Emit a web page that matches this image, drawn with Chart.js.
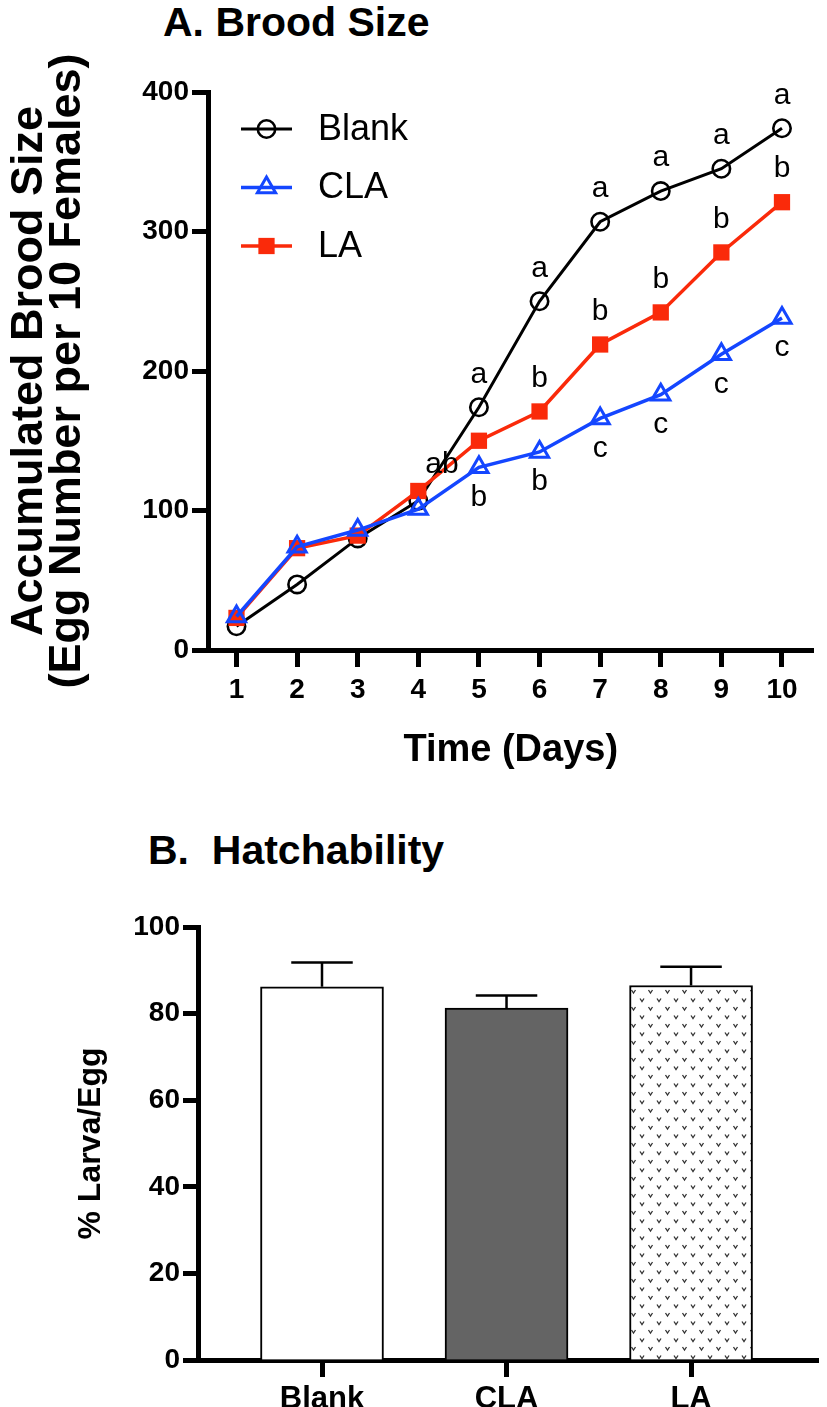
<!DOCTYPE html>
<html><head><meta charset="utf-8">
<script src="https://cdn.jsdelivr.net/npm/chart.js@4.4.1/dist/chart.umd.min.js"></script>
<style>
html,body{margin:0;padding:0;background:#fff;}
#wrap{position:relative;width:827px;height:1407px;overflow:hidden;background:#fff;}
.ptitle{position:absolute;font-family:'Liberation Sans',Arial,sans-serif;font-weight:bold;font-size:41px;line-height:1;white-space:pre;color:#000;}
canvas{position:absolute;left:0;}
</style></head><body>
<div id="wrap">
<div class="ptitle" style="left:163px;top:2px">A. Brood Size</div>
<div class="ptitle" style="left:148px;top:830px">B.  Hatchability</div>
<canvas id="c1" width="827" height="777" style="top:0"></canvas>
<canvas id="c2" width="827" height="607" style="top:800px"></canvas>
</div>
<script>
// ---------- data ----------
const days = [1, 2, 3, 4, 5, 6, 7, 8, 9, 10];
const seriesNames = ['Blank', 'CLA', 'LA'];
const blankBrood = [17, 47, 80, 107, 174, 250, 307, 329, 345, 374];
const claBrood   = [24, 74, 86, 101, 131, 142, 166, 183, 212, 238];
const laBrood    = [23, 73, 82, 114, 150, 171, 219, 242, 285, 321];
const blankLetters = ['', '', '', '', 'a', 'a', 'a', 'a', 'a', 'a'];
const claLetters   = ['', '', '', '', 'b', 'b', 'c', 'c', 'c', 'c'];
const laLetters    = ['', '', '', '', 'ab', 'b', 'b', 'b', 'b', 'b'];
const broodTicks = [0, 100, 200, 300, 400];

const hatchGroups = ['Blank', 'CLA', 'LA'];
const hatchMean = [86.2, 81.3, 86.5];
const hatchSD   = [5.6, 2.9, 4.3];
const hatchTicks = [0, 20, 40, 60, 80, 100];

// ---------- styles ----------
const F = "'Liberation Sans', Arial, sans-serif";
Chart.defaults.font.family = F;
Chart.defaults.color = '#000';
const BLUE = '#1446ff';
const RED = '#fa2a0a';

function toXY(xs, ys) { return xs.map((x, i) => ({ x: x, y: ys[i] })); }

function axisStyle(tickLen) {
  return {
    border: { display: true, color: '#000', width: 5 },
    grid: { display: true, offset: false, drawOnChartArea: false, drawTicks: true, tickLength: tickLen, tickWidth: 5, tickColor: '#000', color: '#000' }
  };
}
const tickFont = { family: F, size: 28, weight: 'bold' };

function drawMarker(ctx, style, x, y) {
  ctx.save();
  ctx.lineWidth = style.borderWidth;
  ctx.strokeStyle = style.borderColor;
  ctx.fillStyle = style.backgroundColor;
  if (Chart.helpers && Chart.helpers.drawPoint) {
    Chart.helpers.drawPoint(ctx, { pointStyle: style.pointStyle, radius: style.radius, borderWidth: style.borderWidth, rotation: 0 }, x, y);
  }
  ctx.restore();
}

const letterPlugin = {
  id: 'letters',
  afterDatasetsDraw(chart) {
    const ctx = chart.ctx;
    ctx.save();
    ctx.font = '30px ' + F;
    ctx.fillStyle = '#000';
    ctx.textAlign = 'center';
    ctx.textBaseline = 'middle';
    chart.data.datasets.forEach((ds, di) => {
      const meta = chart.getDatasetMeta(di);
      ds.letters.forEach((t, i) => {
        if (!t) return;
        const p = meta.data[i];
        let dx = 0, dy = ds.letterSide === 'below' ? 30 : -33;
        if (t.length > 1) { dx = -37; dy = 24; }
        ctx.fillText(t, p.x + dx, p.y + dy);
      });
    });
    ctx.restore();
  }
};

const legendPlugin = {
  id: 'innerLegend',
  afterDraw(chart) {
    const ctx = chart.ctx;
    const x0 = chart.chartArea.left + 33, x1 = x0 + 51, xm = (x0 + x1) / 2;
    const y0 = chart.chartArea.top + 37, dyRow = 58.5;
    chart.data.datasets.slice().sort((a, b) => a.legendIndex - b.legendIndex).forEach((ds, k) => {
      const y = y0 + k * dyRow;
      ctx.save();
      ctx.strokeStyle = ds.borderColor;
      ctx.lineWidth = ds.borderWidth;
      ctx.beginPath(); ctx.moveTo(x0, y); ctx.lineTo(x1, y); ctx.stroke();
      ctx.restore();
      drawMarker(ctx, { pointStyle: ds.pointStyle, radius: ds.pointRadius, borderWidth: ds.pointBorderWidth, borderColor: ds.pointBorderColor, backgroundColor: ds.pointBackgroundColor }, xm, y);
      ctx.save();
      ctx.font = '36px ' + F;
      ctx.fillStyle = '#000';
      ctx.textBaseline = 'middle';
      ctx.fillText(ds.label, x1 + 26, y + 1);
      ctx.restore();
    });
  }
};

new Chart(document.getElementById('c1'), {
  type: 'line',
  data: {
    datasets: [
      { label: seriesNames[0], legendIndex: 0, order: 3, data: toXY(days, blankBrood), letters: blankLetters, letterSide: 'above',
        borderColor: '#000', borderWidth: 3, pointStyle: 'circle', pointRadius: 8.7, pointBorderWidth: 2.6,
        pointBorderColor: '#000', pointBackgroundColor: 'rgba(0,0,0,0)', tension: 0 },
      { label: seriesNames[1], legendIndex: 1, order: 1, data: toXY(days, claBrood), letters: claLetters, letterSide: 'below',
        borderColor: BLUE, borderWidth: 3.5, pointStyle: 'triangle', pointRadius: 10.5, pointBorderWidth: 3,
        pointBorderColor: BLUE, pointBackgroundColor: 'rgba(0,0,0,0)', tension: 0 },
      { label: seriesNames[2], legendIndex: 2, order: 2, data: toXY(days, laBrood), letters: laLetters, letterSide: 'above',
        borderColor: RED, borderWidth: 3.5, pointStyle: 'rect', pointRadius: 11.5, pointBorderWidth: 0,
        pointBorderColor: RED, pointBackgroundColor: RED, tension: 0 }
    ]
  },
  options: {
    responsive: false, animation: false, events: [],
    clip: false,
    layout: { padding: { top: 92, right: 0, bottom: 0, left: 0 } },
    plugins: { legend: { display: false }, tooltip: { enabled: false } },
    scales: {
      x: Object.assign({
        type: 'linear', min: 0.53, max: 10.52,
        afterBuildTicks: s => { s.ticks = days.map(v => ({ value: v })); },
        afterFit: s => { s.height = 127; },
        ticks: { color: '#000', font: tickFont, padding: 6, maxRotation: 0, autoSkip: false },
        title: { display: true, text: 'Time (Days)', color: '#000', font: { size: 38, weight: 'bold' }, padding: { top: 0, bottom: 4 } }
      }, axisStyle(17)),
      y: Object.assign({
        type: 'linear', min: 0, max: 400,
        afterBuildTicks: s => { s.ticks = broodTicks.map(v => ({ value: v })); },
        afterFit: s => { s.width = 208; },
        ticks: { color: '#000', font: tickFont, padding: 3 },
        title: { display: true, text: ['Accumulated Brood Size', '(Egg Number per 10 Females)'], color: '#000',
                 font: { size: 45, weight: 'bold', lineHeight: 0.85 }, padding: { top: 10, bottom: 0 } }
      }, axisStyle(16))
    }
  },
  plugins: [letterPlugin, legendPlugin]
});

function makeDotPattern(ctx) {
  const c = document.createElement('canvas');
  c.width = 17; c.height = 17;
  const g = c.getContext('2d');
  g.fillStyle = '#fff'; g.fillRect(0, 0, 17, 17);
  g.strokeStyle = '#333'; g.lineWidth = 1.3;
  [[4.5, 4.5], [13, 13]].forEach(([x, y]) => {
    g.beginPath(); g.moveTo(x - 2, y - 1.5); g.lineTo(x, y + 1.5); g.lineTo(x + 2, y - 1.5); g.stroke();
  });
  return ctx.createPattern(c, 'repeat');
}

const c2 = document.getElementById('c2');
const dotPattern = makeDotPattern(c2.getContext('2d'));

const errorBarPlugin = {
  id: 'errorBars',
  afterDatasetsDraw(chart) {
    const ctx = chart.ctx, ys = chart.scales.y;
    const meta = chart.getDatasetMeta(0);
    ctx.save();
    ctx.strokeStyle = '#000'; ctx.lineWidth = 2.5;
    meta.data.forEach((bar, i) => {
      const yTop = ys.getPixelForValue(hatchMean[i] + hatchSD[i]);
      const half = bar.width / 4;
      ctx.beginPath();
      ctx.moveTo(bar.x, bar.y); ctx.lineTo(bar.x, yTop);
      ctx.moveTo(bar.x - half, yTop); ctx.lineTo(bar.x + half, yTop);
      ctx.stroke();
    });
    ctx.restore();
  }
};

new Chart(c2, {
  type: 'bar',
  data: {
    datasets: [{
      label: 'Hatchability',
      data: toXY([1, 2, 3], hatchMean),
      backgroundColor: ['#ffffff', '#646464', dotPattern],
      borderColor: '#000', borderWidth: 2, barThickness: 123
    }]
  },
  options: {
    responsive: false, animation: false, events: [],
    layout: { padding: { top: 127, right: 9, bottom: 0, left: 0 } },
    plugins: { legend: { display: false }, tooltip: { enabled: false } },
    scales: {
      x: Object.assign({
        type: 'linear', min: 0.328, max: 3.688, z: 1, offset: false,
        afterBuildTicks: s => { s.ticks = [1, 2, 3].map(v => ({ value: v })); },
        afterFit: s => { s.height = 47; },
        ticks: { color: '#000', font: { size: 31, weight: 'bold' }, padding: 4, maxRotation: 0, autoSkip: false,
                 callback: v => hatchGroups[Math.round(v) - 1] || '' }
      }, axisStyle(17)),
      y: Object.assign({
        type: 'linear', min: 0, max: 100, z: 1,
        afterBuildTicks: s => { s.ticks = hatchTicks.map(v => ({ value: v })); },
        afterFit: s => { s.width = 198; },
        ticks: { color: '#000', font: tickFont, padding: 3 },
        title: { display: true, text: '% Larva/Egg', color: '#000', font: { size: 32, weight: 'bold' }, padding: { top: 72, bottom: 0 } }
      }, axisStyle(15))
    }
  },
  plugins: [errorBarPlugin]
});
</script>
</body></html>
